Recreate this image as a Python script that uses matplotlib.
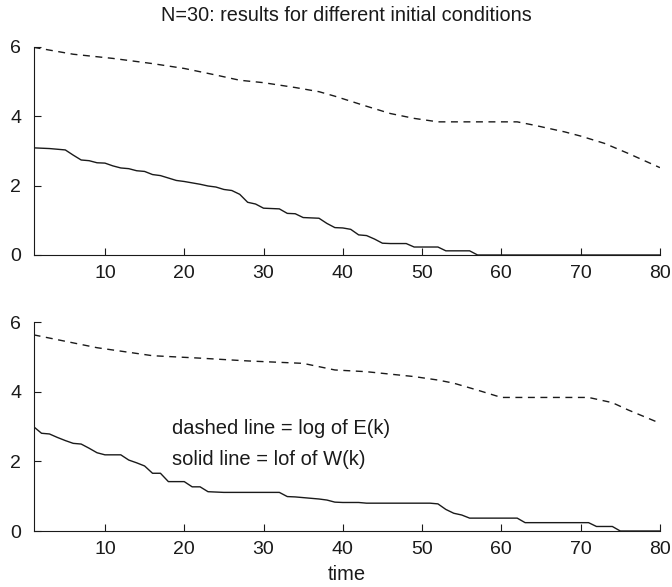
import numpy as np
import matplotlib
matplotlib.use("Agg")
import matplotlib.pyplot as plt

plt.rcParams['font.family'] = ['Liberation Sans', 'DejaVu Sans']

# time steps 1..80
k = np.arange(1, 81)

# top panel: log W(k), solid
w_top = [3.09, 3.08, 3.07, 3.05, 3.03, 2.88, 2.74, 2.72, 2.66, 2.65,
         2.57, 2.51, 2.49, 2.43, 2.41, 2.32, 2.29, 2.22, 2.15, 2.12,
         2.08, 2.04, 1.99, 1.96, 1.89, 1.86, 1.75, 1.52, 1.47, 1.35,
         1.34, 1.33, 1.20, 1.19, 1.08, 1.07, 1.06, 0.91, 0.79, 0.78,
         0.74, 0.58, 0.56, 0.46, 0.34, 0.33, 0.33, 0.33, 0.23, 0.23,
         0.23, 0.23, 0.12, 0.12, 0.12, 0.12, 0.0, 0.0, 0.0, 0.0,
         0.0, 0.0, 0.0, 0.0, 0.0, 0.0, 0.0, 0.0, 0.0, 0.0,
         0.0, 0.0, 0.0, 0.0, 0.0, 0.0, 0.0, 0.0, 0.0, 0.0]

# top panel: log E(k), dashed
e_top_k = [1, 6, 11, 16, 20, 24, 27, 30, 34, 37, 39, 43, 46, 49, 52, 62, 64, 68, 70, 73, 76, 80]
e_top = [5.99, 5.79, 5.67, 5.52, 5.38, 5.19, 5.04, 4.97, 4.83, 4.71, 4.58,
         4.29, 4.08, 3.94, 3.84, 3.84, 3.75, 3.55, 3.43, 3.22, 2.93, 2.52]

# bottom panel: log W(k), solid
w_bot = [3.00, 2.81, 2.79, 2.69, 2.60, 2.52, 2.50, 2.38, 2.25, 2.19,
         2.19, 2.19, 2.04, 1.96, 1.87, 1.66, 1.66, 1.42, 1.42, 1.42,
         1.27, 1.27, 1.13, 1.12, 1.11, 1.11, 1.11, 1.11, 1.11, 1.11,
         1.11, 1.11, 0.99, 0.98, 0.96, 0.94, 0.92, 0.89, 0.83, 0.82,
         0.82, 0.82, 0.80, 0.80, 0.80, 0.80, 0.80, 0.80, 0.80, 0.80,
         0.80, 0.78, 0.62, 0.51, 0.46, 0.37, 0.37, 0.37, 0.37, 0.37,
         0.37, 0.37, 0.24, 0.24, 0.24, 0.24, 0.24, 0.24, 0.24, 0.24,
         0.24, 0.13, 0.13, 0.13, 0.0, 0.0, 0.0, 0.0, 0.0, 0.0]

# bottom panel: log E(k), dashed
e_bot_k = [1, 9, 16, 22, 28, 35, 39, 43, 49, 52, 54, 57, 60, 71, 74, 76, 80]
e_bot = [5.64, 5.27, 5.04, 4.97, 4.89, 4.82, 4.63, 4.58, 4.44, 4.34, 4.25,
         4.05, 3.84, 3.84, 3.69, 3.48, 3.10]

ink = '#1a1a1a'

fig = plt.figure(figsize=(6.72, 5.87), dpi=100)
ax1 = fig.add_axes([0.05, 0.5656, 0.932, 0.3544])
ax2 = fig.add_axes([0.05, 0.0954, 0.932, 0.3555])

for ax, w, ek, e in [(ax1, w_top, e_top_k, e_top), (ax2, w_bot, e_bot_k, e_bot)]:
    ax.plot(k, w, color=ink, linewidth=1.0)
    ax.plot(ek, e, color=ink, linewidth=1.0, linestyle=(0, (5, 4)))
    ax.set_xlim(1, 80)
    ax.set_ylim(0, 6)
    ax.set_xticks([10, 20, 30, 40, 50, 60, 70, 80])
    ax.set_yticks([0, 2, 4, 6])
    ax.spines['top'].set_visible(False)
    ax.spines['right'].set_visible(False)
    for s in ['left', 'bottom']:
        ax.spines[s].set_color(ink)
    ax.tick_params(direction='in', length=5, labelsize=14, pad=7, colors=ink)
    ax.tick_params(axis='y', pad=9)

ax1.set_title('N=30: results for different initial conditions', fontsize=14.3, pad=19, color=ink)
ax2.set_xlabel('time', fontsize=14.5, labelpad=5, color=ink)
ax2.text(18.4, 2.96, 'dashed line = log of E(k)', fontsize=14.5, va='center', color=ink)
ax2.text(18.4, 2.07, 'solid line = lof of W(k)', fontsize=14.5, va='center', color=ink)

fig.savefig('out.png', dpi=100)
